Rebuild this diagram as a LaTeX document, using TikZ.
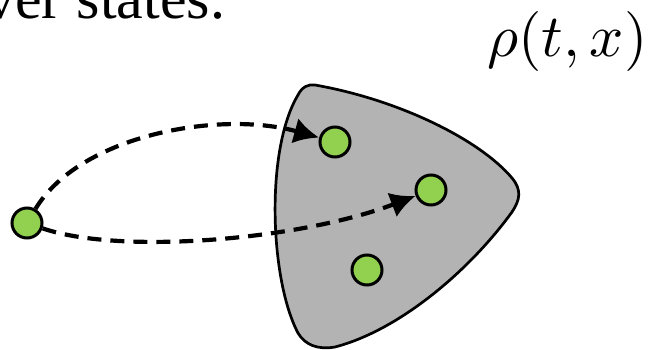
\documentclass[tikz,border=0pt]{standalone}
\usepackage{fontspec}
\setmainfont{Liberation Serif}
\usetikzlibrary{arrows.meta}
\definecolor{stategreen}{HTML}{92D050}
\definecolor{blobgray}{HTML}{B3B3B3}
\begin{document}
\begin{tikzpicture}[x=1pt,y=-1pt,
  state/.style={circle,draw=black,line width=3pt,fill=stategreen,minimum size=30pt,inner sep=0pt},
  flow/.style={dash pattern=on 14pt off 9pt,line width=4.2pt,-{Latex[length=25pt,width=26pt]}},
  blob/.style={draw=black,line width=2.7pt,fill=blobgray}]
\useasboundingbox (0,0) rectangle (653,350);
% region
\path[blob] (315,85) .. controls (400,100) and (480,140) .. (512,178)
  .. controls (522,190) and (520,200) .. (512,212)
  .. controls (470,270) and (400,330) .. (335,347)
  .. controls (318,350) and (305,345) .. (298,333)
  .. controls (270,280) and (265,150) .. (298,95)
  .. controls (302,87) and (308,84) .. (315,85) -- cycle;
% texts
\node[anchor=base west,inner sep=0pt,font=\fontsize{60}{72}\selectfont] (caption) at (-15,19) {ver states.};
\node[anchor=base west,inner sep=0pt,scale=6] (rho) at (486,57) {$\rho(t,x)$};
% states
\node[state] (s0) at (27,223) {};
\node[state] (s1) at (335,142) {};
\node[state] (s2) at (431,190) {};
\node[state] (s3) at (367,270) {};
% flows
\draw[flow] (s0) .. controls (80,135) and (220,110) .. (s1);
\draw[flow] (s0) .. controls (120,255) and (300,240) .. (s2);
\end{tikzpicture}
\end{document}
